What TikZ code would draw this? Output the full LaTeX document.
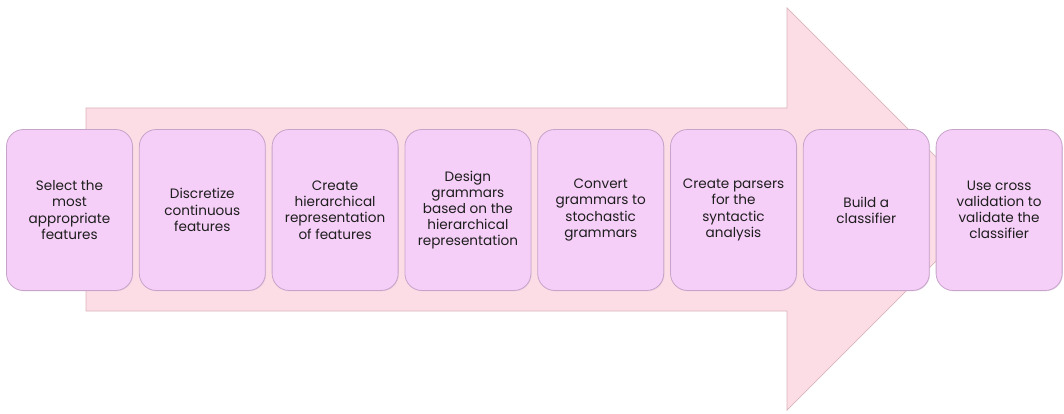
\documentclass[tikz,border=0pt]{standalone}
\usepackage{fontspec}
\setmainfont{Poppins}
\usetikzlibrary{shadows}
\definecolor{arrowfill}{HTML}{FDDDE5}
\definecolor{arrowline}{HTML}{D9B3BC}
\definecolor{boxfill}{HTML}{F6CFF8}
\definecolor{boxline}{HTML}{C7A3C9}
\definecolor{txt}{HTML}{1E1E1E}
\tikzset{
  stepbox/.style={draw=boxline, line width=0.8pt, fill=boxfill, rounded corners=17pt,
    minimum width=126pt, minimum height=161pt, inner sep=0pt,
    align=center, text=txt, font=\fontsize{13.6}{16.2}\selectfont,
    drop shadow={shadow xshift=0.8pt, shadow yshift=-0.8pt, fill=boxline!70, opacity=0.5}},
  bigarrow/.style={draw=arrowline, line width=0.7pt, fill=arrowfill}
}
\begin{document}
\begin{tikzpicture}[x=1pt,y=1pt]
\useasboundingbox (0,0) rectangle (1064,413);
% big arrow (y measured from bottom)
\draw[bigarrow] (86,305) -- (787,305) -- (787,405) -- (988,204) -- (787,3) -- (787,102) -- (86,102) -- cycle;
% boxes
\foreach \i/\t in {
  1/{Select the\\most\\appropriate\\features},
  2/{Discretize\\continuous\\features},
  3/{Create\\hierarchical\\representation\\of features},
  4/{Design\\grammars\\based on the\\hierarchical\\representation},
  5/{Convert\\grammars to\\stochastic\\grammars},
  6/{Create parsers\\for the\\syntactic\\analysis},
  7/{Build a\\classifier},
  8/{Use cross\\validation to\\validate the\\classifier}} {
  \node[stepbox] (s\i) at ({69.5+(\i-1)*132.8}, 203) {\t};
}
\end{tikzpicture}
\end{document}
